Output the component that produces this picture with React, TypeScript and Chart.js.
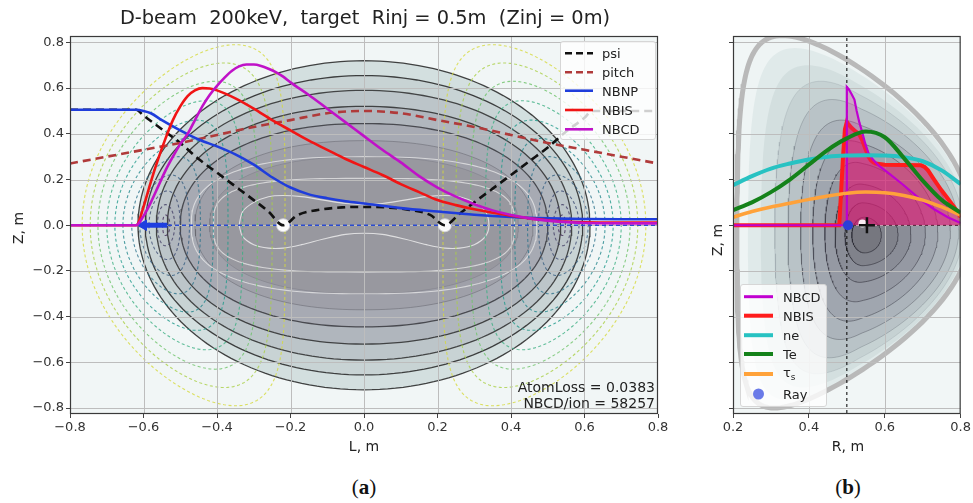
import React, { useEffect, useRef } from 'react';
import { Chart, registerables } from 'chart.js';
Chart.register(...registerables);

// ---------------- shared axis data ----------------
const Y_MIN = -0.826;
const Y_MAX = 0.828;
const yTicks = [-0.8, -0.6, -0.4, -0.2, 0, 0.2, 0.4, 0.6, 0.8];
const yTickLabels = ['−0.8', '−0.6', '−0.4', '−0.2', '0.0', '0.2', '0.4', '0.6', '0.8'];
const xTicksA = [-0.8, -0.6, -0.4, -0.2, 0, 0.2, 0.4, 0.6, 0.8];
const xTickLabelsA = ['−0.8', '−0.6', '−0.4', '−0.2', '0.0', '0.2', '0.4', '0.6', '0.8'];
const xTicksB = [0.2, 0.4, 0.6, 0.8];
const xTickLabelsB = ['0.2', '0.4', '0.6', '0.8'];

// ---------------- panel (a) series ----------------
const psiL = [-0.8, -0.62, -0.6, -0.55, -0.5, -0.45, -0.4, -0.35, -0.3, -0.26, -0.22, -0.18, -0.12, -0.06, 0, 0.06, 0.12, 0.18, 0.22, 0.26, 0.3, 0.35, 0.4, 0.45, 0.5, 0.55, 0.6, 0.62, 0.8];
const psiZ = [0.505, 0.505, 0.48, 0.42, 0.36, 0.29, 0.23, 0.17, 0.11, 0.06, 0.0, 0.045, 0.068, 0.078, 0.08, 0.078, 0.068, 0.045, 0.0, 0.05, 0.1, 0.16, 0.22, 0.28, 0.34, 0.41, 0.47, 0.5, 0.5];

const pitchL = [-0.8, -0.7, -0.6, -0.5, -0.4, -0.3, -0.2, -0.1, 0, 0.1, 0.2, 0.3, 0.4, 0.5, 0.6, 0.7, 0.8];
const pitchZ = [0.27, 0.3, 0.33, 0.36, 0.395, 0.43, 0.46, 0.49, 0.5, 0.49, 0.46, 0.43, 0.395, 0.36, 0.33, 0.3, 0.27];

const nbnpL = [-0.8, -0.62, -0.6, -0.58, -0.55, -0.5, -0.45, -0.4, -0.35, -0.3, -0.25, -0.2, -0.15, -0.1, -0.05, 0, 0.1, 0.2, 0.3, 0.4, 0.5, 0.6, 0.7, 0.8];
const nbnpZ = [0.505, 0.505, 0.5, 0.49, 0.46, 0.415, 0.375, 0.345, 0.31, 0.265, 0.21, 0.165, 0.135, 0.118, 0.105, 0.095, 0.075, 0.06, 0.046, 0.036, 0.03, 0.027, 0.026, 0.026];

const nbisL = [-0.8, -0.62, -0.6, -0.58, -0.56, -0.54, -0.52, -0.5, -0.48, -0.46, -0.44, -0.42, -0.4, -0.35, -0.3, -0.25, -0.2, -0.15, -0.1, -0.05, 0, 0.05, 0.1, 0.15, 0.2, 0.25, 0.3, 0.35, 0.4, 0.45, 0.5, 0.55, 0.6, 0.7, 0.8];
const nbisZ = [0, 0, 0.08, 0.19, 0.29, 0.38, 0.46, 0.52, 0.565, 0.59, 0.6, 0.598, 0.59, 0.555, 0.51, 0.46, 0.415, 0.37, 0.33, 0.29, 0.255, 0.22, 0.18, 0.145, 0.11, 0.088, 0.07, 0.055, 0.042, 0.03, 0.022, 0.016, 0.013, 0.012, 0.012];

const nbcdL = [-0.8, -0.62, -0.6, -0.58, -0.56, -0.54, -0.52, -0.5, -0.48, -0.46, -0.44, -0.42, -0.4, -0.38, -0.36, -0.34, -0.32, -0.3, -0.28, -0.26, -0.24, -0.22, -0.2, -0.15, -0.1, -0.05, 0, 0.05, 0.1, 0.15, 0.2, 0.25, 0.3, 0.35, 0.4, 0.45, 0.5, 0.6, 0.8];
const nbcdZ = [0, 0, 0.04, 0.1, 0.17, 0.24, 0.3, 0.355, 0.4, 0.46, 0.52, 0.57, 0.61, 0.645, 0.675, 0.695, 0.703, 0.703, 0.697, 0.685, 0.67, 0.65, 0.625, 0.57, 0.51, 0.45, 0.39, 0.33, 0.275, 0.215, 0.165, 0.125, 0.092, 0.065, 0.045, 0.03, 0.02, 0.01, 0.008];

const chordL = [-0.8, 0.8];
const chordZ = [0, 0];
const beamL = [-0.6, -0.535];
const beamZ = [0, 0];
const xptL = [-0.22, 0.22];
const xptZ = [0, 0];

// flux-surface contours (a): half width, half height, squareness
const fluxHalfW = [0.615, 0.595, 0.565, 0.535, 0.5, 0.46, 0.42];
const fluxHalfH = [0.72, 0.655, 0.59, 0.52, 0.445, 0.37, 0.3];
const fluxPow = [2, 2, 2.05, 2.1, 2.15, 2.2, 2.3];
const fluxFill = ['#d3dfdf', '#c8d3d4', '#bcc5c9', '#b0b6bd', '#a7aab3', '#9fa0a9', '#98989f'];
const fluxLine = ['rgba(35,35,35,0.85)', 'rgba(35,35,35,0.85)', 'rgba(35,35,35,0.8)', 'rgba(35,35,35,0.8)', 'rgba(40,40,45,0.75)', 'rgba(90,90,100,0.45)', 'rgba(110,110,120,0.35)'];
const whiteHalfW = [0.47, 0.41];
const whiteHalfH = [0.3, 0.205];
const whitePow = [2.6, 3.2];
const peanutL = [-0.34, -0.33, -0.3, -0.26, -0.22, -0.17, -0.11, -0.05, 0, 0.05, 0.11, 0.17, 0.22, 0.26, 0.3, 0.33, 0.34, 0.33, 0.3, 0.26, 0.22, 0.17, 0.11, 0.05, 0, -0.05, -0.11, -0.17, -0.22, -0.26, -0.3, -0.33, -0.34];
const peanutZ = [0, 0.06, 0.1, 0.125, 0.13, 0.125, 0.11, 0.095, 0.09, 0.095, 0.11, 0.125, 0.13, 0.125, 0.1, 0.06, 0, -0.05, -0.085, -0.1, -0.1, -0.085, -0.06, -0.04, -0.035, -0.04, -0.06, -0.085, -0.1, -0.1, -0.085, -0.05, 0];

// dashed side contours (a): outer crossing |L|, inner crossing |L|, top Z, |L| of top
const dashOut = [0.767, 0.745, 0.724, 0.7, 0.678, 0.656, 0.632, 0.61, 0.585, 0.562, 0.548];
const dashIn = [0.215, 0.25, 0.29, 0.33, 0.37, 0.41, 0.445, 0.475, 0.5, 0.515, 0.528];
const dashTop = [0.79, 0.71, 0.63, 0.545, 0.46, 0.38, 0.3, 0.22, 0.15, 0.09, 0.045];
const dashPeak = [0.35, 0.38, 0.405, 0.43, 0.455, 0.48, 0.505, 0.525, 0.535, 0.54, 0.54];
const dashColor = ['rgba(214,218,60,0.8)', 'rgba(170,208,70,0.8)', 'rgba(110,195,105,0.8)', 'rgba(60,175,130,0.8)', 'rgba(35,155,140,0.8)', 'rgba(35,135,140,0.8)', 'rgba(45,115,140,0.8)', 'rgba(55,95,130,0.8)', 'rgba(60,75,115,0.8)', 'rgba(65,60,100,0.8)', 'rgba(68,45,90,0.8)'];

// ---------------- panel (b) series ----------------
const profR = [0.2, 0.25, 0.3, 0.35, 0.4, 0.45, 0.5, 0.55, 0.6, 0.65, 0.7, 0.75, 0.8];
const neZ = [0.175, 0.215, 0.248, 0.27, 0.288, 0.3, 0.305, 0.306, 0.305, 0.298, 0.28, 0.24, 0.18];
const teZ = [0.066, 0.1, 0.145, 0.2, 0.265, 0.33, 0.38, 0.41, 0.385, 0.295, 0.195, 0.11, 0.055];
const tauZ = [0.035, 0.06, 0.08, 0.096, 0.113, 0.128, 0.14, 0.145, 0.142, 0.13, 0.11, 0.08, 0.044];
const nbisR = [0.2, 0.48, 0.485, 0.49, 0.495, 0.5, 0.505, 0.513, 0.523, 0.532, 0.541, 0.55, 0.557, 0.563, 0.57, 0.576, 0.6, 0.65, 0.696, 0.705, 0.714, 0.73, 0.749, 0.767, 0.785, 0.8];
const nbisRZ = [0, 0, 0.15, 0.3, 0.42, 0.452, 0.44, 0.425, 0.41, 0.4, 0.37, 0.33, 0.3, 0.285, 0.275, 0.27, 0.265, 0.263, 0.262, 0.255, 0.24, 0.2, 0.154, 0.115, 0.075, 0.035];
const nbcdR = [0.2, 0.5, 0.5, 0.505, 0.512, 0.52, 0.526, 0.533, 0.54, 0.548, 0.557, 0.57, 0.585, 0.61, 0.65, 0.696, 0.73, 0.766, 0.8];
const nbcdRZ = [0, 0, 0.605, 0.595, 0.575, 0.55, 0.5, 0.45, 0.41, 0.36, 0.315, 0.285, 0.26, 0.228, 0.175, 0.11, 0.07, 0.035, 0.01];
const rayR = [0.503];
const rayZ = [0];
const magAxisR = [0.553];
const magAxisZ = [0];
const spotR = [0.541];
const spotZ = [0.008];
const injR = [0.5, 0.5];
const injZ = [-0.9, 0.9];
const midR = [0.2, 0.8];
const midZ = [0, 0];

// D-shaped flux contours (b): centre, left/right half width, upper/lower height, triangularity
const dRc = [0.52, 0.524, 0.528, 0.532, 0.535, 0.538, 0.54, 0.542, 0.544, 0.545, 0.546];
const dZc = [0, -0.005, -0.01, -0.015, -0.02, -0.025, -0.03, -0.035, -0.04, -0.042, -0.043];
const dAL = [0.31, 0.285, 0.255, 0.222, 0.19, 0.16, 0.13, 0.1, 0.075, 0.05, 0.033];
const dAR = [0.31, 0.3, 0.29, 0.275, 0.26, 0.235, 0.2, 0.165, 0.125, 0.09, 0.045];
const dHU = [0.83, 0.78, 0.71, 0.645, 0.57, 0.485, 0.4, 0.31, 0.22, 0.14, 0.078];
const dHD = [0.8, 0.76, 0.7, 0.635, 0.56, 0.475, 0.39, 0.3, 0.21, 0.135, 0.078];
const dDU = [0.66, 0.6, 0.54, 0.47, 0.4, 0.33, 0.26, 0.19, 0.12, 0.06, 0];
const dDD = [0.75, 0.68, 0.6, 0.52, 0.44, 0.36, 0.28, 0.2, 0.13, 0.06, 0];
const dFill = ['#eef4f4', '#e0eaea', '#d3dfdf', '#c6d2d3', '#b9c3c7', '#acb4bb', '#a0a6af', '#9599a3', '#8a8d97', '#80828b', '#76777f'];
const dLine = ['rgba(0,0,0,0)', 'rgba(0,0,0,0)', 'rgba(0,0,0,0)', 'rgba(120,130,138,0.2)', 'rgba(90,95,105,0.3)', 'rgba(70,72,82,0.4)', 'rgba(60,62,72,0.5)', 'rgba(55,55,65,0.55)', 'rgba(50,50,60,0.6)', 'rgba(45,45,55,0.6)', 'rgba(40,40,50,0.6)'];

// ---------------- helpers ----------------
type Pt = { x: number; y: number };
const zip = (xs: number[], ys: number[]): Pt[] => xs.map((x, i) => ({ x, y: ys[i] }));
const NSEG = 180;

function superEllipse(a: number, b: number, p: number): Pt[] {
  const pts: Pt[] = [];
  for (let i = 0; i <= NSEG; i++) {
    const t = (i / NSEG) * 2 * Math.PI;
    const c = Math.cos(t);
    const s = Math.sin(t);
    pts.push({ x: a * Math.sign(c) * Math.pow(Math.abs(c), 2 / p), y: b * Math.sign(s) * Math.pow(Math.abs(s), 2 / p) });
  }
  return pts;
}

function skewOval(side: number, k: number): Pt[] {
  const c = (dashOut[k] + dashIn[k]) / 2;
  const w = (dashOut[k] - dashIn[k]) / 2;
  const s = dashPeak[k] - c;
  const pts: Pt[] = [];
  for (let i = 0; i <= NSEG; i++) {
    const t = (i / NSEG) * 2 * Math.PI;
    const L = c + w * Math.cos(t) + s * Math.sin(t) * Math.sin(t);
    pts.push({ x: side * L, y: dashTop[k] * Math.sin(t) });
  }
  return pts;
}

function dShape(k: number): Pt[] {
  const pts: Pt[] = [];
  for (let i = 0; i <= NSEG; i++) {
    const t = (i / NSEG) * 2 * Math.PI;
    const up = Math.sin(t) >= 0;
    const d = up ? dDU[k] : dDD[k];
    const h = up ? dHU[k] : dHD[k];
    const c = Math.cos(t + d * Math.sin(t));
    const a = c >= 0 ? dAR[k] : dAL[k];
    pts.push({ x: dRc[k] + a * c, y: dZc[k] + h * Math.sin(t) });
  }
  return pts;
}

const line = (data: Pt[], color: string, width: number, extra: any = {}) => ({
  data,
  showLine: true,
  borderColor: color,
  borderWidth: width,
  pointRadius: 0,
  pointHoverRadius: 0,
  fill: false,
  tension: 0,
  clip: 0,
  ...extra,
});

function drawGrid(chart: any) {
  const { ctx, chartArea: a, scales } = chart;
  const x = scales.x;
  const y = scales.y;
  ctx.save();
  ctx.beginPath();
  ctx.rect(a.left, a.top, a.right - a.left, a.bottom - a.top);
  ctx.clip();
  ctx.strokeStyle = '#bdbdbd';
  ctx.lineWidth = 1;
  ctx.beginPath();
  for (const t of x.ticks) {
    const px = Math.round(x.getPixelForValue(t.value)) + 0.5;
    ctx.moveTo(px, a.top);
    ctx.lineTo(px, a.bottom);
  }
  for (const t of y.ticks) {
    const py = Math.round(y.getPixelForValue(t.value)) + 0.5;
    ctx.moveTo(a.left, py);
    ctx.lineTo(a.right, py);
  }
  ctx.stroke();
  ctx.restore();
}

function panelPlugin(bg: string, gridAfter: number) {
  return {
    id: 'panelDecor',
    beforeDatasetsDraw(chart: any) {
      const { ctx, chartArea: a } = chart;
      ctx.save();
      ctx.fillStyle = bg;
      ctx.fillRect(a.left, a.top, a.right - a.left, a.bottom - a.top);
      ctx.restore();
    },
    afterDatasetDraw(chart: any, args: any) {
      if (args.index === gridAfter) drawGrid(chart);
    },
    afterDraw(chart: any) {
      const { ctx, chartArea: a } = chart;
      ctx.save();
      ctx.strokeStyle = '#3a3a3a';
      ctx.lineWidth = 1.2;
      ctx.strokeRect(a.left + 0.5, a.top + 0.5, a.right - a.left - 1, a.bottom - a.top - 1);
      ctx.restore();
    },
  };
}

function scalesFor(xmin: number, xmax: number, xt: number[], xl: string[], yLabels: boolean, yWidth: number, xHeight: number) {
  const tickFont = { family: '"DejaVu Sans", sans-serif', size: 13 };
  return {
    x: {
      type: 'linear',
      min: xmin,
      max: xmax,
      afterBuildTicks: (s: any) => { s.ticks = xt.map((v) => ({ value: v })); },
      afterFit: (s: any) => { s.height = xHeight; },
      ticks: { callback: (_v: any, i: number) => xl[i], color: '#333', font: tickFont, padding: 2, autoSkip: false, maxRotation: 0, minRotation: 0 },
      grid: { drawOnChartArea: false, drawTicks: true, tickLength: 4, tickColor: '#444', tickWidth: 1 },
      border: { display: false },
    },
    y: {
      type: 'linear',
      min: Y_MIN,
      max: Y_MAX,
      afterBuildTicks: (s: any) => { s.ticks = yTicks.map((v) => ({ value: v })); },
      afterFit: (s: any) => { s.width = yWidth; },
      ticks: { callback: (_v: any, i: number) => (yLabels ? yTickLabels[i] : ''), color: '#333', font: tickFont, padding: 2, autoSkip: false },
      grid: { drawOnChartArea: false, drawTicks: true, tickLength: 4, tickColor: '#444', tickWidth: 1 },
      border: { display: false },
    },
  };
}

function finishOrder(list: any[]) {
  list.forEach((d, i) => { d.order = list.length - i; });
  return list;
}

function buildA(): any {
  const ds: any[] = [];
  fluxHalfW.forEach((a, i) => {
    ds.push(line(superEllipse(a, fluxHalfH[i], fluxPow[i]), fluxLine[i], i < 5 ? 1.3 : 1, { fill: 'shape', backgroundColor: fluxFill[i] }));
  });
  whiteHalfW.forEach((a, i) => {
    ds.push(line(superEllipse(a, whiteHalfH[i], whitePow[i]), 'rgba(238,238,238,0.7)', 1.1));
  });
  ds.push(line(zip(peanutL, peanutZ), 'rgba(240,240,240,0.8)', 1.1, { tension: 0.35 }));
  dashOut.forEach((_o, k) => {
    ds.push(line(skewOval(-1, k), dashColor[k], 1.1, { borderDash: [3, 2.5] }));
    ds.push(line(skewOval(1, k), dashColor[k], 1.1, { borderDash: [3, 2.5] }));
  });
  const gridAfter = ds.length - 1;
  ds.push(line(zip(chordL, chordZ), '#2a4bd0', 1.3, { borderDash: [4, 3] }));
  ds.push(line(zip(beamL, beamZ), '#1f3fe0', 5));
  ds.push({ data: zip([beamL[0]], [beamZ[0]]), pointStyle: 'triangle', rotation: -90, pointRadius: 6, backgroundColor: '#1f3fe0', borderColor: '#1f3fe0', borderWidth: 1, showLine: false, clip: 0 });
  ds.push({ data: zip(xptL, xptZ), pointStyle: 'circle', pointRadius: 6, backgroundColor: 'rgba(255,255,255,0.95)', borderColor: 'rgba(255,255,255,0.6)', borderWidth: 2, showLine: false, clip: 0 });
  ds.push(line(zip(psiL, psiZ), '#111', 2.6, { cubicInterpolationMode: 'monotone', borderDash: [8, 5], label: 'psi' }));
  ds.push(line(zip(pitchL, pitchZ), '#b03a3a', 2.6, { cubicInterpolationMode: 'monotone', borderDash: [8, 5], label: 'pitch' }));
  ds.push(line(zip(nbnpL, nbnpZ), '#1f3ddb', 2.6, { cubicInterpolationMode: 'monotone', label: 'NBNP' }));
  ds.push(line(zip(nbisL, nbisZ), '#f01515', 2.6, { cubicInterpolationMode: 'monotone', label: 'NBIS' }));
  ds.push(line(zip(nbcdL, nbcdZ), '#c012c8', 2.6, { cubicInterpolationMode: 'monotone', label: 'NBCD' }));
  finishOrder(ds);
  return {
    type: 'scatter',
    data: { datasets: ds },
    options: {
      animation: false,
      responsive: false,
      devicePixelRatio: 1,
      events: [],
      layout: { autoPadding: false, padding: { left: 0, top: 36, right: 22, bottom: 0 } },
      plugins: { legend: { display: false }, tooltip: { enabled: false }, title: { display: false } },
      scales: scalesFor(-0.8, 0.8, xTicksA, xTickLabelsA, true, 70, 26),
    },
    plugins: [panelPlugin('#f1f6f6', gridAfter)],
  };
}

function buildB(): any {
  const ds: any[] = [];
  dRc.forEach((_r, k) => {
    ds.push(line(dShape(k), dLine[k], 1, { fill: 'shape', backgroundColor: dFill[k] }));
  });
  ds.push(line(dShape(0), '#b9b9b9', 5));
  const gridAfter = ds.length - 1;
  ds.push(line(zip(injR, injZ), '#111', 1.1, { borderDash: [3, 3] }));
  ds.push(line(zip(midR, midZ), '#111', 1.1, { borderDash: [3, 3] }));
  ds.push(line(zip(nbisR, nbisRZ), '#ff1c1c', 4, { fill: 'origin', backgroundColor: 'rgba(225,20,95,0.55)', label: 'NBIS' }));
  ds.push(line(zip(nbcdR, nbcdRZ), '#c000d0', 2.2, { fill: 'origin', backgroundColor: 'rgba(215,30,150,0.25)', label: 'NBCD' }));
  ds.push(line(zip(profR, tauZ), '#ffa23a', 3.5, { cubicInterpolationMode: 'monotone', label: 'τs' }));
  ds.push(line(zip(profR, neZ), '#27c2c2', 4, { cubicInterpolationMode: 'monotone', label: 'ne' }));
  ds.push(line(zip(profR, teZ), '#14821a', 4, { cubicInterpolationMode: 'monotone', label: 'Te' }));
  ds.push({ data: zip(spotR, spotZ), pointStyle: 'circle', pointRadius: 4, backgroundColor: 'rgba(255,255,255,0.9)', borderWidth: 0, showLine: false, clip: 0 });
  ds.push({ data: zip(magAxisR, magAxisZ), pointStyle: 'cross', pointRadius: 8, borderColor: '#111', borderWidth: 2.5, showLine: false, clip: 0 });
  ds.push({ data: zip(rayR, rayZ), pointStyle: 'circle', pointRadius: 5, backgroundColor: '#2a3fd6', borderColor: '#2a3fd6', borderWidth: 0, showLine: false, clip: 0, label: 'Ray' });
  finishOrder(ds);
  return {
    type: 'scatter',
    data: { datasets: ds },
    options: {
      animation: false,
      responsive: false,
      devicePixelRatio: 1,
      events: [],
      layout: { autoPadding: false, padding: { left: 0, top: 36, right: 10, bottom: 0 } },
      plugins: { legend: { display: false }, tooltip: { enabled: false }, title: { display: false } },
      scales: scalesFor(0.2, 0.8, xTicksB, xTickLabelsB, false, 53, 26),
    },
    plugins: [panelPlugin('#f1f6f6', gridAfter)],
  };
}

function ChartCanvas({ build, left, width, height }: any) {
  const ref = useRef<HTMLCanvasElement>(null);
  useEffect(() => {
    const chart = new Chart(ref.current as HTMLCanvasElement, build());
    return () => chart.destroy();
  }, []);
  return <canvas ref={ref} width={width} height={height} style={{ position: 'absolute', left, top: 0, width, height }} />;
}

const FONT = '"DejaVu Sans", sans-serif';

function Txt({ x, y, size, children, rotate, anchor, style }: any) {
  const tx = anchor === 'end' ? '-100%' : anchor === 'start' ? '0' : '-50%';
  return (
    <div style={{ position: 'absolute', left: x, top: y, transform: `translate(${tx}, -50%)${rotate ? ` rotate(${rotate}deg)` : ''}`, fontSize: size, lineHeight: 1, whiteSpace: 'pre', color: '#222', fontFamily: FONT, ...style }}>
      {children}
    </div>
  );
}

const legendA = [
  { label: 'psi', color: '#111', dash: '7 4', w: 2.6 },
  { label: 'pitch', color: '#b03a3a', dash: '7 4', w: 2.6 },
  { label: 'NBNP', color: '#1f3ddb', dash: '', w: 2.6 },
  { label: 'NBIS', color: '#f01515', dash: '', w: 2.6 },
  { label: 'NBCD', color: '#c012c8', dash: '', w: 2.6 },
];
const legendARows = [12.3, 31.3, 49.7, 69, 88.3];

const legendB = [
  { label: 'NBCD', color: '#c000d0', w: 3 },
  { label: 'NBIS', color: '#ff1c1c', w: 4 },
  { label: 'ne', color: '#27c2c2', w: 4 },
  { label: 'Te', color: '#14821a', w: 4 },
  { label: 'τs', color: '#ffa23a', w: 4 },
  { label: 'Ray', color: '#6a7ae8', w: 0 },
];
const legendBRows = [12.7, 31.7, 51.2, 70, 90, 110];

function LegendBox({ left, top, width, height, items, rows, hx0, hx1, tx }: any) {
  return (
    <div style={{ position: 'absolute', left, top, width, height, background: 'rgba(255,255,255,0.8)', border: '1px solid #d6d6d6', borderRadius: 3, boxSizing: 'border-box' }}>
      <svg width={width} height={height} style={{ position: 'absolute', left: -1, top: -1 }}>
        {items.map((it: any, i: number) =>
          it.w > 0 ? (
            <line key={i} x1={hx0} x2={hx1} y1={rows[i]} y2={rows[i]} stroke={it.color} strokeWidth={it.w} strokeDasharray={it.dash || undefined} />
          ) : (
            <circle key={i} cx={(hx0 + hx1) / 2} cy={rows[i]} r={5.5} fill={it.color} />
          )
        )}
      </svg>
      {items.map((it: any, i: number) => (
        <div key={'t' + i} style={{ position: 'absolute', left: tx - 1, top: rows[i] - 1, transform: 'translateY(-50%)', fontSize: 13, lineHeight: 1, fontFamily: FONT, color: '#222', whiteSpace: 'pre' }}>
          {it.label === 'τs' ? (<span>τ<sub style={{ fontSize: 9, verticalAlign: -3 }}>s</sub></span>) : it.label}
        </div>
      ))}
    </div>
  );
}

export default function App() {
  return (
    <div style={{ position: 'absolute', left: 0, top: 0, width: 973, height: 503, background: '#fff', overflow: 'hidden', fontFamily: FONT }}>
      <ChartCanvas build={buildA} left={0} width={680} height={440} />
      <ChartCanvas build={buildB} left={680} width={293} height={440} />
      <Txt x={365} y={18} size={19.4}>{'D-beam  200keV,  target  Rinj = 0.5m  (Zinj = 0m)'}</Txt>
      <Txt x={18} y={228} size={14} rotate={-90}>Z, m</Txt>
      <Txt x={364} y={446} size={14}>L, m</Txt>
      <Txt x={717} y={240} size={14} rotate={-90}>Z, m</Txt>
      <Txt x={848} y={446} size={14}>R, m</Txt>
      <Txt x={655} y={387} size={14} anchor="end">AtomLoss = 0.0383</Txt>
      <Txt x={655} y={403} size={14} anchor="end">NBCD/ion = 58257</Txt>
      <LegendBox left={560} top={41} width={96} height={99} items={legendA} rows={legendARows} hx0={5} hx1={33} tx={42} />
      <LegendBox left={740} top={284} width={87} height={123} items={legendB} rows={legendBRows} hx0={4} hx1={33} tx={43} />
      <Txt x={364} y={487} size={21} style={{ fontFamily: '"Liberation Serif", serif', color: '#111' }}>
        <span>(<b>a</b>)</span>
      </Txt>
      <Txt x={848} y={487} size={21} style={{ fontFamily: '"Liberation Serif", serif', color: '#111' }}>
        <span>(<b>b</b>)</span>
      </Txt>
    </div>
  );
}
